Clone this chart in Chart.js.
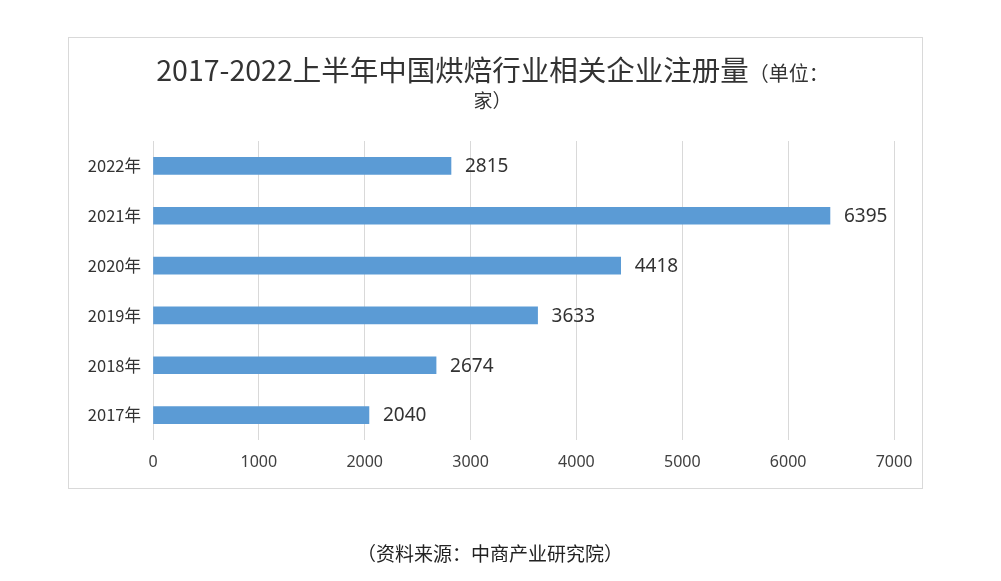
<!DOCTYPE html>
<html>
<head>
<meta charset="utf-8">
<script src="https://cdn.jsdelivr.net/npm/chart.js@4/dist/chart.umd.min.js"></script>
<style>
  html, body { margin: 0; padding: 0; background: #fff; }
  body { width: 1001px; height: 581px; position: relative; overflow: hidden; font-family: "Noto Sans CJK SC", "Noto Sans", sans-serif; }
  #box { position: absolute; left: 68px; top: 37px; width: 855px; height: 452px; border: 1px solid #d9d9d9; box-sizing: border-box; }
  #wrap { position: absolute; left: 0; top: 0; width: 1001px; height: 581px; }
  #title1 { position: absolute; left: 0; width: 985px; top: 50px; text-align: center; color: #333; font-size: 28.5px; line-height: 38px; white-space: nowrap; }
  #title1 .small { font-size: 20px; }
  #title2 { position: absolute; left: 0; width: 985px; top: 87px; text-align: center; color: #333; font-size: 19px; line-height: 26px; }
  #source { position: absolute; left: 0; width: 980px; top: 539px; text-align: center; color: #222; font-size: 19px; line-height: 28px; }
</style>
</head>
<body>
<div id="box"></div>
<div id="wrap"><canvas id="c" width="1001" height="581"></canvas></div>
<div id="title1">2017-2022上半年中国烘焙行业相关企业注册量<span class="small">（单位：</span></div>
<div id="title2">家）</div>
<div id="source">（资料来源：中商产业研究院）</div>
<script>
const categories = ["2022年", "2021年", "2020年", "2019年", "2018年", "2017年"];
const registrations = [2815, 6395, 4418, 3633, 2674, 2040];
const xTicks = [0, 1000, 2000, 3000, 4000, 5000, 6000, 7000];

const valueLabels = {
  id: 'valueLabels',
  afterDatasetsDraw(chart) {
    const ctx = chart.ctx;
    const meta = chart.getDatasetMeta(0);
    ctx.save();
    ctx.fillStyle = '#333';
    ctx.font = '19px "Noto Sans", "DejaVu Sans", sans-serif';
    ctx.textBaseline = 'middle';
    ctx.textAlign = 'left';
    meta.data.forEach((bar, i) => {
      ctx.fillText(String(registrations[i]), bar.x + 14, bar.y + 1);
    });
    ctx.restore();
  }
};

new Chart(document.getElementById('c'), {
  type: 'bar',
  data: {
    labels: categories,
    datasets: [{
      data: registrations,
      backgroundColor: '#5b9bd5',
      borderWidth: 0,
      barThickness: 17
    }]
  },
  options: {
    indexAxis: 'y',
    responsive: false,
    animation: false,
    devicePixelRatio: 1,
    layout: { padding: { left: 68, right: 107, top: 141, bottom: 100 } },
    plugins: { legend: { display: false }, tooltip: { enabled: false }, title: { display: false } },
    scales: {
      x: {
        min: 0, max: 7000,
        afterBuildTicks(axis) { axis.ticks = xTicks.map(v => ({ value: v })); },
        grid: { color: '#d9d9d9', lineWidth: 1, drawTicks: false },
        border: { display: false },
        ticks: { color: '#404040', font: { size: 16, family: '"Noto Sans", "DejaVu Sans", sans-serif' }, padding: 13, maxRotation: 0,
                 callback: (v) => String(v) },
        afterFit(axis) { axis.height = 41; }
      },
      y: {
        grid: { display: false, drawTicks: false },
        border: { display: false },
        ticks: { color: '#333', font: { size: 16.5, family: '"Noto Sans CJK SC", sans-serif' }, padding: 12 },
        afterFit(axis) { axis.width = 85; }
      }
    }
  },
  plugins: [valueLabels]
});
</script>
</body>
</html>
